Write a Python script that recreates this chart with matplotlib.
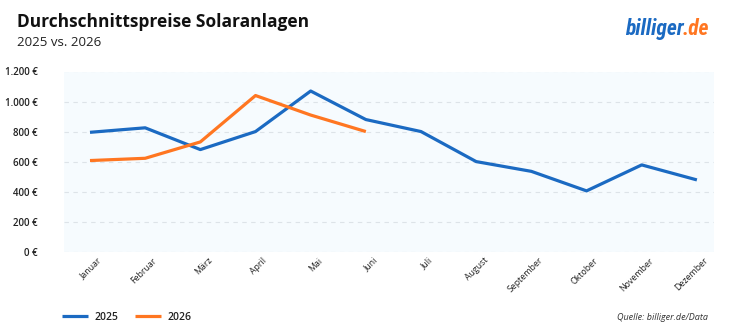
import matplotlib
matplotlib.use("Agg")
import matplotlib.pyplot as plt
from matplotlib.transforms import ScaledTranslation
from matplotlib.ticker import FuncFormatter

months = ["Januar", "Februar", "März", "April", "Mai", "Juni", "Juli",
          "August", "September", "Oktober", "November", "Dezember"]
prices_2025 = [795, 825, 680, 800, 1070, 880, 800, 600, 535, 405, 578, 478]
prices_2026 = [607, 622, 731, 1040, 910, 800]
yticks = [0, 200, 400, 600, 800, 1000, 1200]

BLUE = "#1b6ac2"
ORANGE = "#ff7621"
plt.rcParams['font.family'] = ['Open Sans', 'DejaVu Sans']

fig = plt.figure(figsize=(7.35, 3.33), dpi=100)
ax = fig.add_axes([64/735, 1-251.7/333, 650/735, 180.2/333])
ax.set_facecolor("#f6fbfe")
for s in ax.spines.values():
    s.set_visible(False)

x26 = list(range(len(prices_2026)))
x25 = list(range(len(prices_2025)))
ax.plot(x25, prices_2025, color=BLUE, lw=2.3, solid_capstyle='butt', zorder=3, label="2025")
ax.plot(x26, prices_2026, color=ORANGE, lw=2.3, solid_capstyle='butt', zorder=4, label="2026")

ax.set_xlim(-0.471, 11.31)
ax.set_ylim(0, 1200)
ax.set_yticks(yticks)
ax.yaxis.set_major_formatter(FuncFormatter(lambda v, p: f"{int(v):,} €".replace(",", ".")))
ax.grid(axis='y', color='#dde3e8', lw=0.8, ls=(0, (4, 4)))
ax.set_axisbelow(True)
ax.tick_params(axis='y', length=0, pad=19, labelsize=7, labelcolor='#222222')
for lab in ax.get_yticklabels():
    lab.set_fontweight('semibold')

ax.set_xticks(x25)
ax.set_xticklabels(months, rotation=45, ha='right', va='top', rotation_mode='anchor',
                   fontsize=6.3, color='#222222')
ax.tick_params(axis='x', length=0, pad=3)
for lab in ax.get_xticklabels():
    lab.set_transform(lab.get_transform() + ScaledTranslation(7/100, 0, fig.dpi_scale_trans))

fig.text(17/735, 1-27/333, "Durchschnittspreise Solaranlagen", fontsize=12.5,
         fontweight='bold', color='#111111', va='baseline')
fig.text(17/735, 1-46/333, "2025 vs. 2026", fontsize=9.5, color='#222222', va='baseline')

# logo
logo_font = ['Roboto Condensed', 'Roboto', 'DejaVu Sans']
t1 = fig.text(625/735, 1-35/333, "billiger", fontsize=15.5, fontweight='heavy',
              fontstyle='italic', color=BLUE, va='baseline', family=logo_font)
fig.canvas.draw()
bb = t1.get_window_extent()
fig.text(bb.x1/735 - 0.001, 1-35/333, ".de", fontsize=15.5, fontweight='heavy',
         fontstyle='italic', color=ORANGE, va='baseline', family=logo_font)

leg = fig.legend(handles=ax.get_lines(), labels=["2025", "2026"], loc='center left',
                 bbox_to_anchor=(62/735, 1-317/333), ncol=2, frameon=False,
                 fontsize=7.5, handlelength=2.5, columnspacing=1.6, handletextpad=0.6,
                 borderpad=0, borderaxespad=0)
for t in leg.get_texts():
    t.set_fontweight('semibold')
    t.set_color('#222222')

fig.text(708/735, 1-317/333, "Quelle: billiger.de/Data", fontsize=6.5, fontstyle='italic',
         color='#333333', ha='right', va='center')

fig.savefig("out.png", dpi=100)
